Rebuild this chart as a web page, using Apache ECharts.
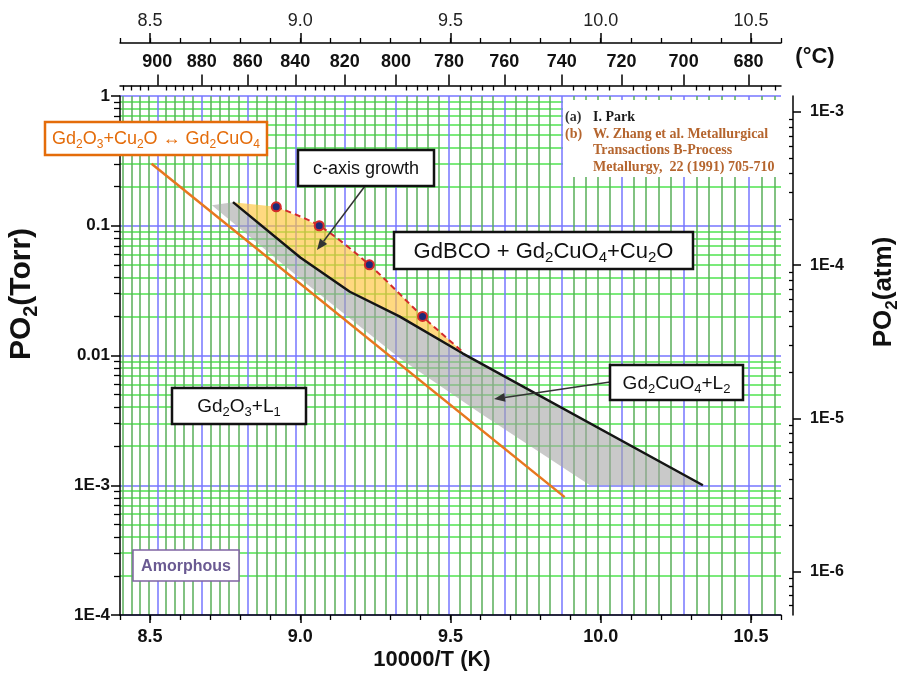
<!DOCTYPE html>
<html>
<head>
<meta charset="utf-8">
<title>PO2 vs 10000/T</title>
<script src="https://cdn.jsdelivr.net/npm/echarts@6/dist/echarts.min.js"></script>
<style>
  html, body { margin: 0; padding: 0; background: #fff; }
  #chart { width: 906px; height: 677px; }
</style>
</head>
<body>
<div id="chart"></div>
<script>
// x = 10000/T (K), y = PO2 (Torr)
const orangeX = [8.505, 9.88];
const orangeP = [0.3, 0.00081];

const blackX = [8.776, 9.0, 9.165, 9.33, 9.54, 10.34];
const blackP = [0.152, 0.057, 0.031, 0.02, 0.0104, 0.001];

const grayLowX = [8.706, 9.0, 9.332, 9.598, 9.964];
const grayLowP = [0.144, 0.039, 0.0095, 0.0036, 0.001];

const redX = [8.92, 9.063, 9.23, 9.407, 9.542];
const redP = [0.14, 0.1, 0.05, 0.02, 0.0106];
const redDot = [true, true, true, true, false];

// ticks
const kMajor = [8.5, 9.0, 9.5, 10.0, 10.5];
const kMinor = [8.4, 8.5, 8.6, 8.7, 8.8, 8.9, 9.0, 9.1, 9.2, 9.3, 9.4, 9.5, 9.6, 9.7, 9.8, 9.9,
                10.0, 10.1, 10.2, 10.3, 10.4, 10.5, 10.6];
const cMajor = [900, 880, 860, 840, 820, 800, 780, 760, 740, 720, 700, 680];
const cStep = 4;
const torrTicks = [0, -1, -2, -3, -4];
const torrLabels = ['1', '0.1', '0.01', '1E-3', '1E-4'];
const atmTicks = [-3, -4, -5, -6];
const atmLabels = ['1E-3', '1E-4', '1E-5', '1E-6'];
// right (atm) axis range as drawn in the original, log10 units
const atmMin = -6.284, atmMax = -2.895;

const X_MIN = 8.4, X_MAX = 10.6;
const lg = Math.log10;
const toX = c => 10000 / (c + 273.15);

const cMajorX = cMajor.map(toX);
const cMinorX = [];
for (let c = 916; c >= 672; c -= cStep) if (c % 20 !== 0) cMinorX.push(toX(c));

function logMinors(lo, hi) {
  const out = [];
  for (let d = Math.floor(lo) - 1; d <= Math.ceil(hi); d++)
    for (let k = 2; k <= 9; k++) {
      const v = d + lg(k);
      if (v >= lo && v <= hi) out.push(v);
    }
  return out;
}

const SANS = '"Liberation Sans", Arial, sans-serif';
const SERIF = '"Liberation Serif", "Times New Roman", serif';
const BLUE = '#7676FF', GREEN_V = '#58AE58', GREEN_H = '#4FE34F';
const pts = (xs, ps) => xs.map((x, i) => [x, lg(ps[i])]);

function hiddenX(pos, offset, ticks, len, inside, split) {
  return {
    type: 'value', position: pos, offset: offset, min: X_MIN, max: X_MAX,
    axisLine: { show: false, onZero: false },
    axisTick: { show: len > 0, customValues: ticks, length: len, inside: inside, lineStyle: { color: '#000', width: 1.3 } },
    axisLabel: { show: false },
    splitLine: split ? { show: true, lineStyle: split } : { show: false }
  };
}

const xAxes = [
  { // bottom 10000/T
    type: 'value', position: 'bottom', min: X_MIN, max: X_MAX,
    axisLine: { show: true, onZero: false, lineStyle: { color: '#000', width: 1.5 } },
    axisTick: { show: true, customValues: kMajor, length: 8, lineStyle: { color: '#000', width: 1.5 } },
    axisLabel: { show: true, customValues: kMajor, formatter: v => v.toFixed(1), margin: 13,
      color: '#111', fontSize: 18, fontWeight: 'bold', fontFamily: SANS },
    splitLine: { show: false }
  },
  hiddenX('bottom', 0, kMinor, 5, false, null),
  { // top 10000/T
    type: 'value', position: 'top', offset: 53, min: X_MIN, max: X_MAX,
    axisLine: { show: true, onZero: false, lineStyle: { color: '#000', width: 1.5 } },
    axisTick: { show: true, customValues: kMajor, length: 10, lineStyle: { color: '#000', width: 1.5 } },
    axisLabel: { show: true, customValues: kMajor, formatter: v => v.toFixed(1), margin: 13,
      color: '#222', fontSize: 18, fontFamily: SANS },
    splitLine: { show: false }
  },
  hiddenX('top', 53, kMinor, 5, false, null),
  { // top degC, major + blue grid
    type: 'value', position: 'top', offset: 10.5, min: X_MIN, max: X_MAX,
    axisLine: { show: true, onZero: false, lineStyle: { color: '#000', width: 1.5 } },
    axisTick: { show: true, customValues: cMajorX, length: 11, lineStyle: { color: '#000', width: 1.5 } },
    axisLabel: { show: true, customValues: cMajorX, formatter: v => String(Math.round(10000 / v - 273.15)),
      margin: 14, color: '#111', fontSize: 18, fontWeight: 'bold', fontFamily: SANS },
    splitLine: { show: true, lineStyle: { color: BLUE, width: 1.5 } }
  },
  hiddenX('top', 10.5, cMinorX, 5, true, { color: GREEN_V, width: 1.5 })
];

function hiddenY(pos, offset, min, max, ticks, len, inside, split) {
  return {
    type: 'value', position: pos, offset: offset, min: min, max: max,
    axisLine: { show: false, onZero: false },
    axisTick: { show: true, customValues: ticks, length: len, inside: inside, lineStyle: { color: '#000', width: 1.3 } },
    axisLabel: { show: false },
    splitLine: split ? { show: true, lineStyle: split } : { show: false }
  };
}

const yAxes = [
  { // left PO2 Torr (log10)
    type: 'value', position: 'left', min: -4, max: 0,
    axisLine: { show: true, onZero: false, lineStyle: { color: '#000', width: 1.5 } },
    axisTick: { show: true, customValues: torrTicks, length: 9, lineStyle: { color: '#000', width: 1.5 } },
    axisLabel: { show: true, customValues: torrTicks, formatter: v => torrLabels[torrTicks.indexOf(Math.round(v))],
      margin: 10, color: '#111', fontSize: 17, fontWeight: 'bold', fontFamily: SANS },
    splitLine: { show: true, lineStyle: { color: BLUE, width: 1.5 } }
  },
  hiddenY('left', 0, -4, 0, logMinors(-4, 0), 6, false, { color: GREEN_H, width: 1.5 }),
  { // right PO2 atm (log10)
    type: 'value', position: 'right', offset: 12, min: atmMin, max: atmMax,
    axisLine: { show: true, onZero: false, lineStyle: { color: '#000', width: 1.5 } },
    axisTick: { show: true, customValues: atmTicks, length: 8, lineStyle: { color: '#000', width: 1.5 } },
    axisLabel: { show: true, customValues: atmTicks, formatter: v => atmLabels[atmTicks.indexOf(Math.round(v))],
      margin: 17, color: '#111', fontSize: 16, fontWeight: 'bold', fontFamily: SANS },
    splitLine: { show: false }
  },
  hiddenY('right', 12, atmMin, atmMax, logMinors(atmMin, atmMax), 4, true, null)
];

function polySeries(xs, ps, color) {
  return {
    type: 'custom', coordinateSystem: 'cartesian2d', xAxisIndex: 0, yAxisIndex: 0,
    silent: true, z: 2,
    data: [[xs[0], lg(ps[0])]],
    renderItem: (params, api) => ({
      type: 'polygon',
      shape: { points: xs.map((x, i) => api.coord([x, lg(ps[i])])) },
      style: { fill: color }
    })
  };
}

const grayX = grayLowX.concat(blackX.slice().reverse());
const grayP = grayLowP.concat(blackP.slice().reverse());
const yelX = [blackX[0]].concat(redX, blackX.slice(0, 5).reverse());
const yelP = [blackP[0]].concat(redP, blackP.slice(0, 5).reverse());

// rich text: '_x' marks a subscript character
function rt(str) {
  return str.split(/(_.)/).filter(Boolean)
    .map(t => t[0] === '_' ? '{s|' + t[1] + '}' : '{n|' + t + '}').join('');
}
function richFor(f, color, weight, family) {
  const ln = Math.round(f * 1.25), sh = Math.round(f * 0.28);
  return {
    n: { fontSize: f, lineHeight: ln, fill: color, fontWeight: weight, fontFamily: family || SANS },
    s: { fontSize: Math.round(f * 0.66), lineHeight: ln - 2 * sh, verticalAlign: 'bottom',
         fill: color, fontWeight: weight, fontFamily: family || SANS }
  };
}
function label(x, y, txt, f, color, weight, rot) {
  return { type: 'text', x: x, y: y, rotation: rot || 0, z: 100, silent: true,
    style: { x: 0, y: 0, text: rt(txt), rich: richFor(f, color, weight), align: 'center', verticalAlign: 'middle' } };
}
function box(x, y, w, h, border, bw, txt, f, color, weight) {
  return [
    { type: 'rect', z: 100, silent: true, shape: { x: x, y: y, width: w, height: h },
      style: { fill: '#fff', stroke: border, lineWidth: bw } },
    label(x + w / 2, y + h / 2 + 1, txt, f, color, weight)
  ];
}
function arrow(x1, y1, x2, y2) {
  const a = Math.atan2(y2 - y1, x2 - x1), L = 11, W = 4.5;
  const bx = x2 - L * Math.cos(a), by = y2 - L * Math.sin(a);
  return [
    { type: 'line', z: 100, silent: true, shape: { x1: x1, y1: y1, x2: bx, y2: by },
      style: { stroke: '#333', lineWidth: 1.5, fill: null } },
    { type: 'polygon', z: 100, silent: true,
      shape: { points: [[x2, y2], [bx - W * Math.sin(a), by + W * Math.cos(a)], [bx + W * Math.sin(a), by - W * Math.cos(a)]] },
      style: { fill: '#333' } }
  ];
}
function note(x, y, txt, color) {
  return { type: 'text', z: 101, silent: true,
    style: { x: x, y: y, text: txt, fill: color, font: 'bold 14px ' + SERIF, align: 'left', verticalAlign: 'middle' } };
}

const BROWN = '#B5652E';
const graphics = [].concat(
  // reference note panel
  [{ type: 'rect', z: 99, silent: true, shape: { x: 563, y: 100, width: 218, height: 77 }, style: { fill: '#fff' } }],
  note(565, 117, '(a)', '#333'), note(593, 117, 'I. Park', '#1a1a1a'),
  note(565, 134, '(b)', BROWN), note(593, 134, 'W. Zhang et al. Metallurgical', BROWN),
  note(593, 150.5, 'Transactions B-Process', BROWN),
  note(593, 167, 'Metallurgy,  22 (1991) 705-710', BROWN),
  arrow(365, 186, 317, 250),
  arrow(610, 382, 494, 399),
  box(45, 122, 222, 33, '#E46C0A', 2.5, 'Gd_2O_3+Cu_2O \u2194 Gd_2CuO_4', 18, '#E46C0A', 'normal'),
  box(298, 150, 136, 36, '#111', 2.5, 'c-axis growth', 18, '#111', 'normal'),
  box(394, 232, 299, 37, '#111', 2.5, 'GdBCO + Gd_2CuO_4+Cu_2O', 22, '#111', 'normal'),
  box(610, 365, 133, 35, '#111', 2.5, 'Gd_2CuO_4+L_2', 19, '#111', 'normal'),
  box(172, 388, 134, 36, '#111', 2.5, 'Gd_2O_3+L_1', 19, '#111', 'normal'),
  box(133, 550, 106, 31, '#8064A2', 1.5, 'Amorphous', 16, '#6A5A92', 'bold'),
  // axis titles
  label(22, 294, 'PO_2(Torr)', 30, '#111', 'bold', Math.PI / 2),
  label(884, 292, 'PO_2(atm)', 26, '#111', 'bold', Math.PI / 2),
  label(432, 660, '10000/T (K)', 22, '#111', 'bold'),
  label(815, 57, '(\u00B0C)', 22, '#111', 'bold')
);

const chart = echarts.init(document.getElementById('chart'), null, { renderer: 'canvas' });
chart.setOption({
  animation: false,
  backgroundColor: '#fff',
  grid: { left: 120, right: 125, top: 96, bottom: 62, containLabel: false, outerBoundsMode: 'none' },
  xAxis: xAxes,
  yAxis: yAxes,
  series: [
    polySeries(grayX, grayP, 'rgba(165,165,165,0.6)'),
    polySeries(yelX, yelP, 'rgba(255,196,60,0.65)'),
    {
      type: 'line', silent: true, z: 3, showSymbol: false,
      data: pts(orangeX, orangeP),
      lineStyle: { color: '#E8771E', width: 2.5 }
    },
    {
      type: 'line', silent: true, z: 3, showSymbol: false,
      data: pts(blackX, blackP),
      lineStyle: { color: '#151515', width: 2.5 }
    },
    {
      type: 'line', silent: true, z: 4, smooth: 0.3, showSymbol: true,
      data: redX.map((x, i) => ({ value: [x, lg(redP[i])], symbol: redDot[i] ? 'circle' : 'none' })),
      symbolSize: 9,
      itemStyle: { color: '#1E2A78', borderColor: '#D42A2A', borderWidth: 2 },
      lineStyle: { color: '#D42A2A', width: 2, type: [6, 4] }
    }
  ],
  graphic: graphics
});
</script>
</body>
</html>
